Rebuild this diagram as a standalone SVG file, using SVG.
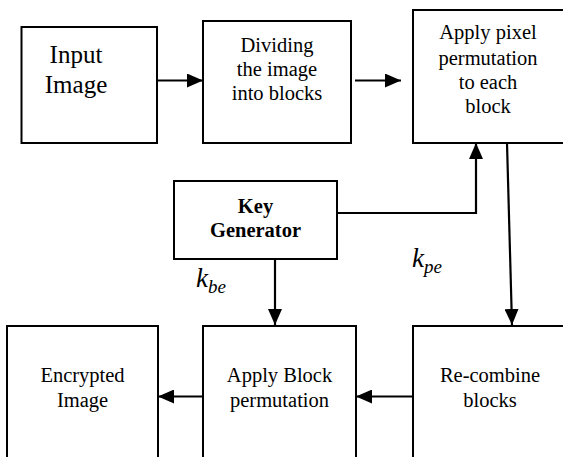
<svg xmlns="http://www.w3.org/2000/svg" width="563" height="457" viewBox="0 0 563 457">
<style>
.box{fill:#fff;stroke:#000;stroke-width:2}
.t{font-family:"Liberation Serif","Times New Roman",serif;font-size:20.5px;text-anchor:middle;fill:#000}
.big{font-size:25px}
.b{font-weight:bold}
.ln{fill:none;stroke:#000;stroke-width:2.2}
.k{font-family:"Liberation Serif","Times New Roman",serif;font-style:italic;fill:#000}
</style>
<defs>
<marker id="ah" markerUnits="userSpaceOnUse" markerWidth="16" markerHeight="14" refX="16" refY="7" orient="auto">
<path d="M0,0 L16,7 L0,14 Z" fill="#000"/>
</marker>
</defs>
<g id="input">
<rect class="box" x="21.5" y="27" width="135.5" height="116"/>
<text class="t big" x="76" y="63">Input</text>
<text class="t big" x="76" y="93">Image</text>
</g>
<g id="divide">
<rect class="box" x="203" y="21" width="148" height="122"/>
<text class="t" x="277" y="52">Dividing</text>
<text class="t" x="277" y="75.5">the image</text>
<text class="t" x="277" y="100">into blocks</text>
</g>
<g id="pixel">
<rect class="box" x="413" y="10" width="160" height="133"/>
<text class="t" x="488" y="39">Apply pixel</text>
<text class="t" x="488" y="64.5">permutation</text>
<text class="t" x="488" y="89">to each</text>
<text class="t" x="488" y="113">block</text>
</g>
<g id="keygen">
<rect class="box" x="174" y="181" width="163" height="78"/>
<text class="t b" x="255.5" y="213">Key</text>
<text class="t b" x="255.5" y="237">Generator</text>
</g>
<g id="encrypted">
<rect class="box" x="7" y="326" width="151" height="140"/>
<text class="t" x="82.5" y="382">Encrypted</text>
<text class="t" x="82.5" y="407">Image</text>
</g>
<g id="blockperm">
<rect class="box" x="203" y="326" width="153" height="140"/>
<text class="t" x="279.5" y="382">Apply Block</text>
<text class="t" x="279.5" y="407">permutation</text>
</g>
<g id="recombine">
<rect class="box" x="413" y="326" width="160" height="140"/>
<text class="t" x="490" y="382">Re-combine</text>
<text class="t" x="490" y="407">blocks</text>
</g>
<g id="connectors">
<line class="ln" x1="157" y1="80.5" x2="203" y2="80.5" marker-end="url(#ah)"/>
<line class="ln" x1="355" y1="80.5" x2="401" y2="80.5" marker-end="url(#ah)"/>
<polyline class="ln" points="337,213 476,213 476,143" marker-end="url(#ah)"/>
<line class="ln" x1="507" y1="143" x2="512" y2="325" marker-end="url(#ah)"/>
<line class="ln" x1="275" y1="259" x2="275" y2="325" marker-end="url(#ah)"/>
<line class="ln" x1="413" y1="396.5" x2="356" y2="396.5" marker-end="url(#ah)"/>
<line class="ln" x1="203" y1="396.5" x2="158" y2="396.5" marker-end="url(#ah)"/>
</g>
<g id="labels">
<text class="k" x="196" y="287" font-size="27">k<tspan font-size="19" dy="6">be</tspan></text>
<text class="k" x="412" y="267" font-size="27">k<tspan font-size="19" dy="6">pe</tspan></text>
</g>
</svg>
